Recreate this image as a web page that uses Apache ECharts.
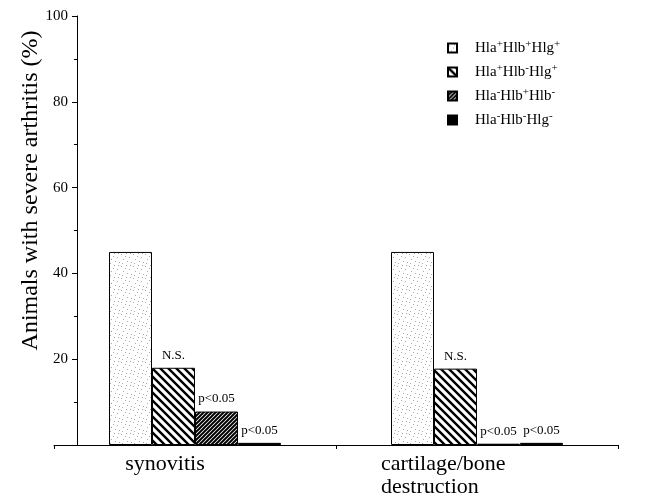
<!DOCTYPE html>
<html>
<head>
<meta charset="utf-8">
<script src="https://cdn.jsdelivr.net/npm/echarts@6/dist/echarts.min.js"></script>
<style>
  html, body { margin: 0; padding: 0; background: #fff; }
  #chart { width: 650px; height: 499px; }
</style>
</head>
<body>
<div id="chart"></div>
<script>
// categories and data
const categories = ['synovitis', 'cartilage/bone\ndestruction']
const seriesNames = ['Hla+Hlb+Hlg+', 'Hla+Hlb-Hlg+', 'Hla-Hlb+Hlb-', 'Hla-Hlb-Hlg-']
const allPositive = [45, 45]
const hlbNegative = [18, 17.8]
const hlaNegHlbPos = [7.8, 0.3]
const allNegative = [0.5, 0.5]
const notes = [
  ['', ''],
  ['N.S.', 'N.S.'],
  ['p<0.05', 'p<0.05'],
  ['p<0.05', 'p<0.05']
]
const yTicks = [0, 20, 40, 60, 80, 100]

const serif = 'Liberation Serif'

// fill patterns for the bars
function makePattern(size, draw) {
  const c = document.createElement('canvas')
  c.width = size
  c.height = size
  const ctx = c.getContext('2d')
  ctx.fillStyle = '#fff'
  ctx.fillRect(0, 0, size, size)
  draw(ctx)
  return { image: c, repeat: 'repeat' }
}

// sparse grey speckles
const dotted = makePattern(12, ctx => {
  ctx.fillStyle = '#a8a8a8'
  const pts = [[1, 2], [6, 1], [9, 5], [3, 7], [7, 9], [11, 10], [2, 11], [5, 4], [10, 1]]
  pts.forEach(p => ctx.fillRect(p[0], p[1], 1, 1))
})

// wide "\" hatch
const hatch = makePattern(8, ctx => {
  ctx.strokeStyle = '#000'
  ctx.lineWidth = 2.4
  ctx.beginPath()
  ctx.moveTo(-2, -2); ctx.lineTo(10, 10)
  ctx.moveTo(-10, -2); ctx.lineTo(2, 10)
  ctx.moveTo(6, -2); ctx.lineTo(18, 10)
  ctx.stroke()
})

// dense "/" hatch
const denseHatch = makePattern(4, ctx => {
  ctx.strokeStyle = '#000'
  ctx.lineWidth = 2
  ctx.beginPath()
  ctx.moveTo(-1, 5); ctx.lineTo(5, -1)
  ctx.moveTo(-3, 3); ctx.lineTo(3, -3)
  ctx.moveTo(1, 7); ctx.lineTo(7, 1)
  ctx.stroke()
})

const fills = [dotted, hatch, denseHatch, '#000']
const values = [allPositive, hlbNegative, hlaNegHlbPos, allNegative]

const series = seriesNames.map((name, i) => ({
  name: name,
  type: 'bar',
  data: values[i],
  barWidth: 43,
  barGap: '0%',
  itemStyle: {
    color: fills[i],
    borderColor: '#000',
    borderWidth: 1
  },
  label: {
    show: true,
    position: 'top',
    distance: 6,
    color: '#000',
    fontFamily: serif,
    fontSize: 13,
    formatter: p => notes[i][p.dataIndex]
  }
}))

// superscript the +/- signs in the legend
function supLabel(name) {
  return name.replace(/([^+-]+)([+-])/g, '{n|$1}{s|$2}')
}

// two-line category names are left aligned under each other
function catLabel(v) {
  if (v.indexOf('\n') < 0) return v
  return v.split('\n').map(l => '{w|' + l + '}').join('\n')
}

const chart = echarts.init(document.getElementById('chart'))
chart.setOption({
  animation: false,
  backgroundColor: '#fff',
  grid: { left: 54, right: 32, top: 16, bottom: 54, containLabel: false },
  legend: {
    orient: 'vertical',
    left: 447,
    top: 39,
    padding: 0,
    itemWidth: 9,
    itemHeight: 9,
    itemGap: 6,
    icon: 'rect',
    data: seriesNames,
    formatter: supLabel,
    textStyle: {
      color: '#000',
      fontFamily: serif,
      fontSize: 15,
      padding: [0, 0, 0, 13],
      rich: {
        n: { fontFamily: serif, fontSize: 15, color: '#000', lineHeight: 18 },
        s: { fontFamily: serif, fontSize: 11, color: '#000', verticalAlign: 'top', lineHeight: 18, padding: [0, 0, 7, 0] }
      }
    }
  },
  xAxis: {
    type: 'category',
    data: categories,
    axisLine: { lineStyle: { color: '#000', width: 1 } },
    axisTick: { show: true, alignWithLabel: false, length: 4, lineStyle: { color: '#000' } },
    axisLabel: {
      color: '#000',
      fontFamily: serif,
      fontSize: 22,
      lineHeight: 23,
      margin: 8,
      interval: 0,
      padding: [0, 60, 0, 0],
      formatter: catLabel,
      rich: {
        w: { fontFamily: serif, fontSize: 22, lineHeight: 23, color: '#000', width: 132, align: 'left' }
      }
    }
  },
  yAxis: {
    type: 'value',
    min: yTicks[0],
    max: yTicks[yTicks.length - 1],
    interval: 20,
    offset: -23,
    name: 'Animals with severe arthritis (%)',
    nameLocation: 'middle',
    nameGap: 34,
    nameMoveOverlap: false,
    nameRotate: 90,
    nameTextStyle: {
      color: '#000',
      fontFamily: serif,
      fontSize: 24,
      padding: [0, 0, 0, 80]
    },
    axisLine: { show: true, lineStyle: { color: '#000', width: 1 } },
    axisTick: { show: true, length: 5, lineStyle: { color: '#000' } },
    minorTick: { show: true, splitNumber: 2, length: 3, lineStyle: { color: '#000' } },
    splitLine: { show: false },
    axisLabel: {
      color: '#000',
      fontFamily: serif,
      fontSize: 15,
      margin: 9,
      formatter: v => (v === 0 ? '' : v)
    }
  },
  series: series
})
</script>
</body>
</html>
